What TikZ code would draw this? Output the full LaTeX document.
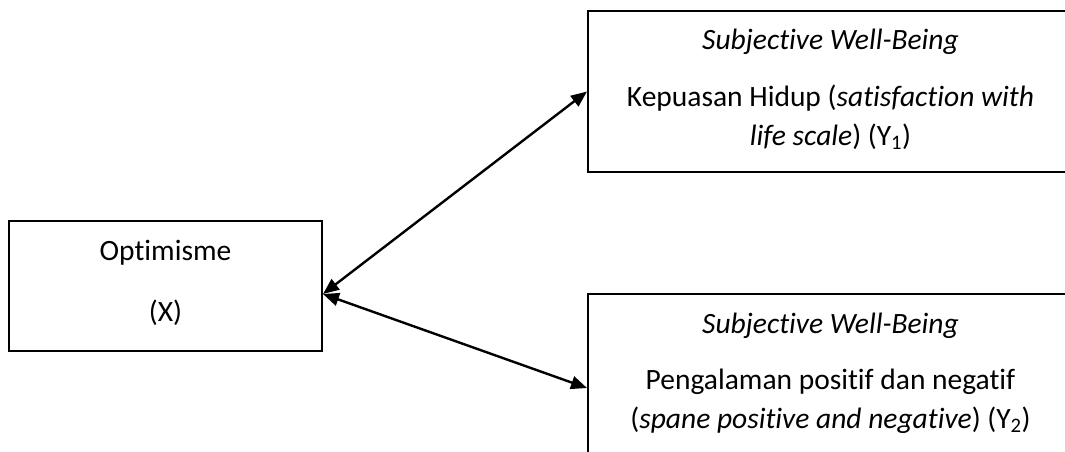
\documentclass[tikz,border=0pt]{standalone}
\usepackage{fontspec}
\setmainfont{Carlito}[Ligatures=NoCommon]
\usetikzlibrary{arrows.meta}
\tikzset{
  box/.style={draw=black, line width=2pt, rectangle, inner sep=0pt},
  lbl/.style={anchor=base, inner sep=0pt, font=\fontsize{29.5}{34}\selectfont},
  link/.style={line width=2.4pt, {Triangle[length=16pt,width=13pt]}-{Triangle[length=16pt,width=13pt]}}
}
\begin{document}
\begin{tikzpicture}[x=1pt,y=-1pt]
\useasboundingbox (0,0) rectangle (1065,452);
\clip (0,0) rectangle (1065,452);
% boxes
\node[box, minimum width=313pt, minimum height=130pt] (opt) at (165.5,286) {};
\node[box, minimum width=485pt, minimum height=161pt] (swb1) at (830.5,91.5) {};
\node[box, minimum width=485pt, minimum height=188pt] (swb2) at (830.5,388) {};
% texts
\node[lbl] (t1) at (165.5,260) {Optimisme};
\node[lbl] (t2) at (165.5,321) {(X)};
\node[lbl] (t3) at (830.5,50) {\textit{Subjective Well-Being}};
\node[lbl] (t4) at (830.5,106) {Kepuasan Hidup (\textit{satisfaction with}};
\node[lbl] (t5) at (830.5,145) {\textit{life scale}) (Y\textsubscript{1})};
\node[lbl] (t6) at (830.5,333) {\textit{Subjective Well-Being}};
\node[lbl] (t7) at (830.5,389) {Pengalaman positif dan negatif};
\node[lbl] (t8) at (830.5,428) {(\textit{spane positive and negative}) (Y\textsubscript{2})};
% connectors
\coordinate (optR) at ([yshift=-8pt]opt.east);
\draw[link] (optR) -- (swb1.west);
\draw[link] (optR) -- (swb2.west);
\end{tikzpicture}
\end{document}
